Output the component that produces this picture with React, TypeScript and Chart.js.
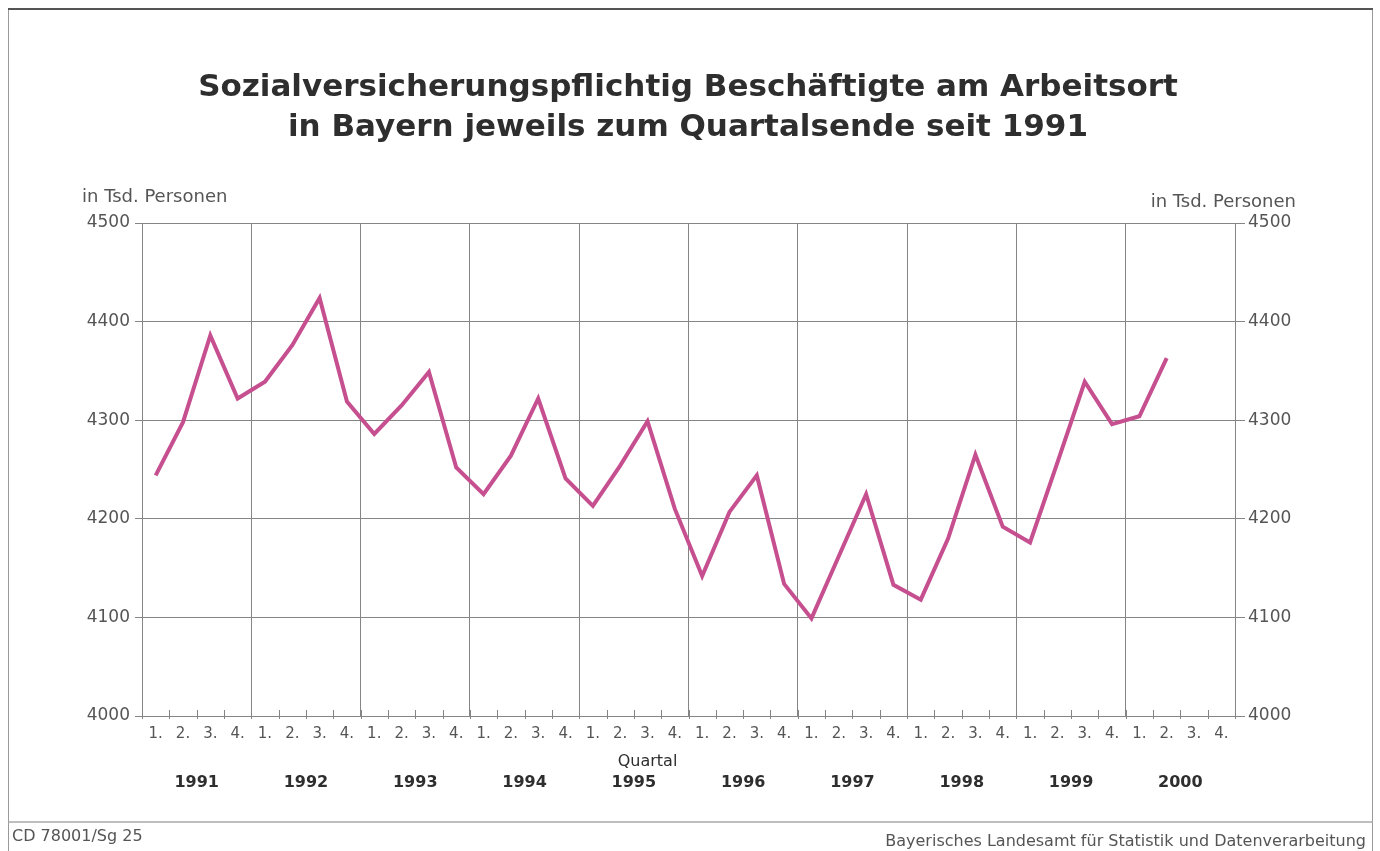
import React, { useEffect, useRef } from "react";
import { Chart, registerables } from "chart.js";

Chart.register(...registerables);

const titleLines = [
  "Sozialversicherungspflichtig Beschäftigte am Arbeitsort",
  "in Bayern jeweils zum Quartalsende seit 1991",
];
const unitLabel = "in Tsd. Personen";
const axisTitleX = "Quartal";
const footerLeft = "CD 78001/Sg 25";
const footerRight = "Bayerisches Landesamt für Statistik und Datenverarbeitung";

const years = ["1991", "1992", "1993", "1994", "1995", "1996", "1997", "1998", "1999", "2000"];
const quarters = ["1.", "2.", "3.", "4."];

// Beschäftigte in Tsd., 1991 Q1 bis 2000 Q2
const beschaeftigte = [
  4244, 4298, 4386, 4322,
  4339, 4376, 4424, 4319,
  4286, 4315, 4349, 4252,
  4225, 4264, 4322, 4241,
  4213, 4254, 4299, 4210,
  4142, 4207, 4244, 4134,
  4099, 4162, 4225, 4133,
  4118, 4180, 4265, 4192,
  4176, 4257, 4339, 4296,
  4304, 4363, null, null,
];

const yMin = 4000;
const yMax = 4500;
const yStep = 100;

const FONT = "'DejaVu Sans', sans-serif";
const GRID = "#858585";
const TEXT = "#555555";
const DARK = "#2e2e2e";
const LINE = "#c64f90";

export default function App() {
  const ref = useRef<HTMLCanvasElement>(null);

  useEffect(() => {
    const canvas = ref.current;
    if (!canvas) return;
    const categories = years.flatMap(() => quarters);

    const decor = {
      id: "decor",
      beforeDraw(chart: any) {
        const ctx = chart.ctx;
        ctx.save();
        ctx.fillStyle = "#ffffff";
        ctx.fillRect(0, 0, chart.width, chart.height);
        ctx.strokeStyle = "#9a9a9a";
        ctx.lineWidth = 1;
        ctx.beginPath();
        ctx.moveTo(8.5, 9);
        ctx.lineTo(8.5, 851);
        ctx.moveTo(1372.5, 9);
        ctx.lineTo(1372.5, 851);
        ctx.stroke();
        ctx.strokeStyle = "#555555";
        ctx.lineWidth = 2;
        ctx.beginPath();
        ctx.moveTo(8, 9);
        ctx.lineTo(1373, 9);
        ctx.stroke();
        ctx.strokeStyle = "#a8a8a8";
        ctx.lineWidth = 1.5;
        ctx.beginPath();
        ctx.moveTo(8, 822);
        ctx.lineTo(1373, 822);
        ctx.stroke();
        ctx.restore();
      },
      afterDraw(chart: any) {
        const ctx = chart.ctx;
        const xs = chart.scales.x;
        const area = chart.chartArea;
        ctx.save();
        // title
        ctx.fillStyle = DARK;
        ctx.textAlign = "center";
        ctx.textBaseline = "middle";
        ctx.font = `bold 31px ${FONT}`;
        ctx.fillText(titleLines[0], 688, 88);
        ctx.fillText(titleLines[1], 688, 128);
        // unit labels
        ctx.fillStyle = TEXT;
        ctx.font = `18px ${FONT}`;
        ctx.textAlign = "left";
        ctx.fillText(unitLabel, 82, 197);
        ctx.textAlign = "right";
        ctx.fillText(unitLabel, 1296, 202);
        // footer
        ctx.font = `16px ${FONT}`;
        ctx.textAlign = "left";
        ctx.fillText(footerLeft, 12, 837);
        ctx.textAlign = "right";
        ctx.fillText(footerRight, 1366, 842);
        // x axis title
        ctx.fillStyle = DARK;
        ctx.font = `16px ${FONT}`;
        ctx.textAlign = "center";
        ctx.fillText(axisTitleX, xs.getPixelForValue(18), 762);
        // quarter tick marks
        ctx.strokeStyle = GRID;
        ctx.lineWidth = 1;
        ctx.beginPath();
        for (let i = 0; i <= categories.length; i++) {
          const px = Math.round(xs.getPixelForValue(i - 0.5)) + 0.5;
          ctx.moveTo(px, area.bottom - 6);
          ctx.lineTo(px, area.bottom + 3);
        }
        ctx.stroke();
        ctx.restore();
      },
    };

    const plain = (v: any) => String(v);

    const chart = new Chart(canvas, {
      type: "line",
      data: {
        labels: categories,
        datasets: [
          {
            data: beschaeftigte,
            borderColor: LINE,
            borderWidth: 4,
            pointRadius: 0,
            tension: 0,
            fill: false,
            xAxisID: "x",
            yAxisID: "y",
          },
        ],
      },
      options: {
        animation: false,
        responsive: false,
        devicePixelRatio: 1,
        layout: { padding: { top: 223, left: 0, right: 0, bottom: 0 }, autoPadding: false },
        plugins: { legend: { display: false }, tooltip: { enabled: false }, title: { display: false } },
        scales: {
          x: {
            type: "category",
            position: "bottom",
            offset: true,
            grid: {
              offset: true,
              color: (c: any) => (c.index % 4 === 0 ? GRID : "rgba(0,0,0,0)"),
              lineWidth: 1,
              drawTicks: false,
            },
            border: { display: false },
            ticks: {
              autoSkip: false,
              maxRotation: 0,
              minRotation: 0,
              padding: 9,
              color: TEXT,
              font: { family: FONT, size: 15 },
            },
            afterFit: (s: any) => {
              s.height = 50;
            },
          },
          x2: {
            type: "category",
            position: "bottom",
            labels: years,
            offset: true,
            bounds: "ticks",
            grid: { display: false, drawTicks: false },
            border: { display: false },
            ticks: {
              autoSkip: false,
              maxRotation: 0,
              padding: 7,
              color: DARK,
              font: { family: FONT, size: 16, weight: "bold" },
            },
            afterFit: (s: any) => {
              s.height = 85;
            },
          },
          y: {
            position: "left",
            min: yMin,
            max: yMax,
            grid: { color: GRID, lineWidth: 1, drawTicks: true, tickLength: 7, tickColor: GRID },
            border: { display: true, color: GRID },
            ticks: {
              stepSize: yStep,
              padding: 5,
              color: TEXT,
              font: { family: FONT, size: 17 },
              callback: plain,
            },
            afterFit: (s: any) => {
              s.width = 142;
            },
          },
          y2: {
            position: "right",
            min: yMin,
            max: yMax,
            grid: { drawOnChartArea: false, drawTicks: true, tickLength: 10, color: GRID, tickColor: GRID },
            border: { display: true, color: GRID },
            ticks: {
              stepSize: yStep,
              padding: 3,
              color: TEXT,
              font: { family: FONT, size: 17 },
              callback: plain,
            },
            afterFit: (s: any) => {
              s.width = 145;
            },
          },
        },
      },
      plugins: [decor],
    });

    return () => chart.destroy();
  }, []);

  return (
    <div style={{ position: "absolute", left: 0, top: 0, width: 1380, height: 851 }}>
      <canvas ref={ref} width={1380} height={851} style={{ display: "block" }} />
    </div>
  );
}
